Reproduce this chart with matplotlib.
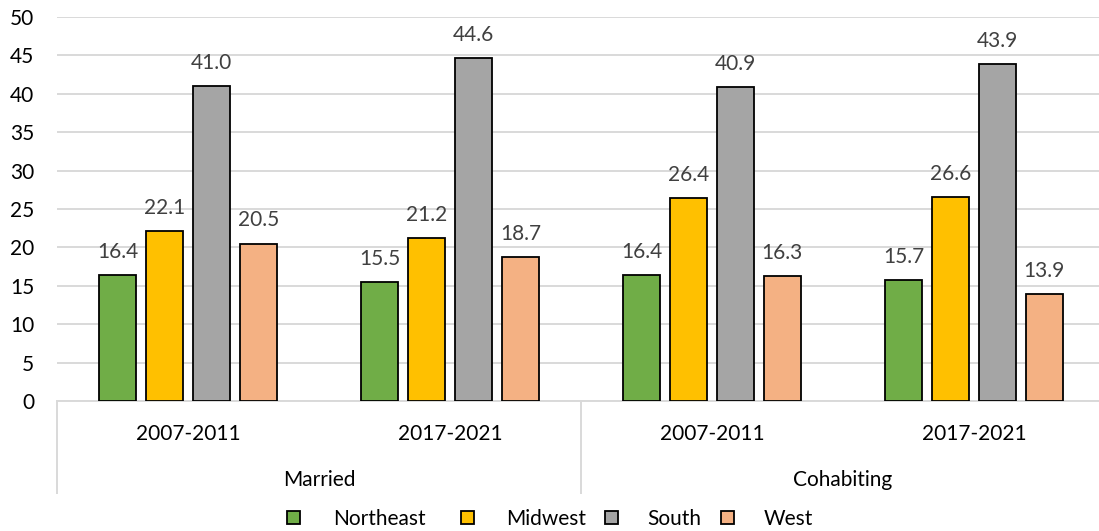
import matplotlib
matplotlib.use("Agg")
import matplotlib.pyplot as plt
from matplotlib.patches import Rectangle
from matplotlib.transforms import blended_transform_factory
import numpy as np

plt.rcParams['font.family'] = ['Lato', 'DejaVu Sans']

# Data
periods = ["2007-2011", "2017-2021", "2007-2011", "2017-2021"]
statuses = ["Married", "Cohabiting"]
regions = ["Northeast", "Midwest", "South", "West"]
northeast = [16.4, 15.5, 16.4, 15.7]
midwest = [22.1, 21.2, 26.4, 26.6]
south = [41.0, 44.6, 40.9, 43.9]
west = [20.5, 18.7, 16.3, 13.9]
series = [northeast, midwest, south, west]
colors = ["#70AD47", "#FFC000", "#A5A5A5", "#F4B183"]

W, H = 1099, 531
fig = plt.figure(figsize=(W / 100, H / 100), dpi=100)
ax = fig.add_axes([57 / W, 1 - 401 / H, 1048 / W, 384 / H])

x = np.arange(len(periods))
step = 0.179
bar_w = 0.141
for i, (vals, col) in enumerate(zip(series, colors)):
    pos = x + (i - 1.5) * step
    bars = ax.bar(pos, vals, width=bar_w, color=col, edgecolor="black",
                  linewidth=1.3, zorder=3)
    for b, v in zip(bars, vals):
        ax.annotate(f"{v:.1f}", (b.get_x() + b.get_width() / 2, v),
                    xytext=(0, 12.3), textcoords="offset points",
                    ha="center", va="baseline", fontsize=15, color="#404040")

ax.set_xlim(-0.5, 3.5)
ax.set_ylim(0, 50)
ax.set_yticks(np.arange(0, 51, 5))
ax.yaxis.grid(True, color="#d9d9d9", linewidth=1.4, zorder=0)
ax.set_axisbelow(True)
for s in ["top", "right", "left"]:
    ax.spines[s].set_visible(False)
ax.spines["bottom"].set_color("#d9d9d9")
ax.spines["bottom"].set_linewidth(1.4)
ax.tick_params(axis="y", length=0, pad=16.5, labelsize=15, labelcolor="#000000")
ax.set_xticks([])

# Two-level category axis
tr = blended_transform_factory(ax.transData, fig.transFigure)
for xi, p in zip(x, periods):
    ax.text(xi, 1 - 440 / H, p, transform=tr, ha="center", va="baseline",
            fontsize=15, color="#000000")
for gi, st in enumerate(statuses):
    ax.text(2 * gi + 0.5, 1 - 486 / H, st, transform=tr, ha="center",
            va="baseline", fontsize=15, color="#000000")
for xd in [-0.5, 1.5, 3.5]:
    ax.plot([xd, xd], [1 - 401 / H, 1 - 493 / H], transform=tr,
            color="#d9d9d9", linewidth=1.4, clip_on=False)

# Legend
sq_x = [287, 461, 605, 721]
txt_x = [333, 506, 647, 764]
for sx, tx, lab, col in zip(sq_x, txt_x, regions, colors):
    fig.patches.append(Rectangle((sx / W, 1 - 524 / H), 13 / W, 13 / H,
                                 transform=fig.transFigure, facecolor=col,
                                 edgecolor="black", linewidth=1.3))
    fig.text(tx / W, 1 - 525 / H, lab, ha="left", va="baseline",
             fontsize=15, color="#000000")

fig.savefig("out.png", dpi=100)
